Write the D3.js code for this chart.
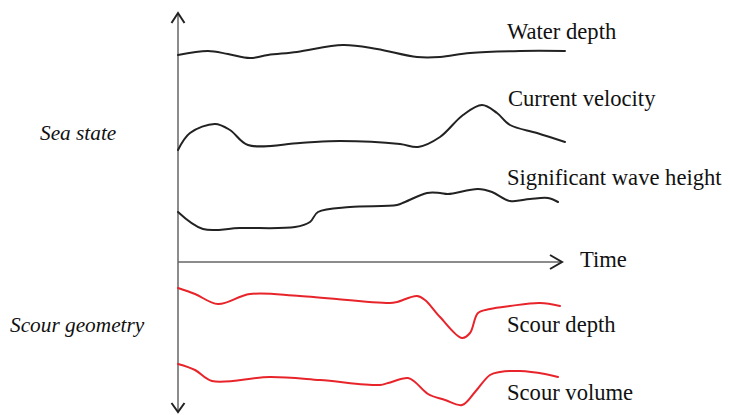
<!DOCTYPE html>
<html><head><meta charset="utf-8">
<script src="https://cdn.jsdelivr.net/npm/d3@7"></script>
<style>body{margin:0;background:#fff}svg{display:block}</style>
</head><body>
<svg id="c" width="730" height="415"></svg>
<script>
// Data (schematic signals): time values and signal levels
const waterT   = [0,30,50,72,90,119,165,199,239,262,292,342,387];
const waterV   = [358,362,359,355,358,361,368,364,356,356,360,362,362];
const currentT = [0,12,37,52,70,122,162,222,240,262,285,304,319,332,359,387];
const currentV = [263,280,289,283,268,270,272,269,266,276,298,308,300,288,280,271];
const waveT    = [0,25,62,117,132,140,172,219,227,249,262,270,300,314,332,352,370,380];
const waveV    = [201,184,185,186,191,201,206,208,211,220,220,219,224,221,212,214,215,211];
const depthT   = [0,17,40,72,122,212,219,239,247,262,284,292,300,312,332,362,382];
const depthV   = [125,119,109,119,117,110,111,117,113,96,75,80,100,104,107,110,107];
const volumeT  = [0,17,34,92,142,202,210,230,237,250,267,284,297,312,322,342,367,380];
const volumeV  = [49,43,32,36,33,28,30,35,31,19,13,8,21,38,41,42,39,36];
const seriesNames = ["Water depth","Current velocity","Significant wave height","Scour depth","Scour volume"];
const groupNames = ["Sea state","Scour geometry"];
const axisLabel = "Time";

const svg = d3.select("#c");
const x = d3.scaleLinear().domain([0,387]).range([178,565]);
const y = d3.scaleLinear().domain([0,400]).range([413,13]);

const series = [
  {name:seriesNames[0], t:waterT, v:waterV, color:"#222", lx:507, ly:39},
  {name:seriesNames[1], t:currentT, v:currentV, color:"#222", lx:508, ly:106},
  {name:seriesNames[2], t:waveT, v:waveV, color:"#222", lx:507, ly:185},
  {name:seriesNames[3], t:depthT, v:depthV, color:"#e8242b", lx:507, ly:332},
  {name:seriesNames[4], t:volumeT, v:volumeV, color:"#e8242b", lx:507, ly:400}
];

const line = d3.line().x(d=>x(d[0])).y(d=>y(d[1])).curve(d3.curveCatmullRom.alpha(0.5));
const font = "Liberation Serif, serif";

// axes
const axisColor = "#666";
svg.append("line").attr("x1",x(0)).attr("x2",x(0)).attr("y1",y(400)).attr("y2",y(1))
  .attr("stroke",axisColor).attr("stroke-width",1.5);
svg.append("line").attr("x1",x(0)).attr("x2",x(384)).attr("y1",y(151)).attr("y2",y(151))
  .attr("stroke",axisColor).attr("stroke-width",1.5);
const arrow = pts => svg.append("path").attr("d", d3.line()(pts)).attr("fill","none")
  .attr("stroke","#222").attr("stroke-width",2).attr("stroke-linejoin","miter");
arrow([[x(0)-6.5,y(390)],[x(0),y(400)],[x(0)+6.5,y(390)]]);
arrow([[x(0)-6.5,y(10)],[x(0),y(1)],[x(0)+6.5,y(10)]]);
arrow([[x(372),y(158)],[x(384),y(151)],[x(372),y(144)]]);

series.forEach(s=>{
  svg.append("path").attr("d", line(s.t.map((t,i)=>[t,s.v[i]])))
    .attr("fill","none").attr("stroke",s.color).attr("stroke-width",2)
    .attr("stroke-linecap","round");
  svg.append("text").attr("x",s.lx).attr("y",s.ly).text(s.name)
    .attr("font-family",font).attr("font-size",22.6).attr("fill","#111");
});
svg.append("text").attr("x",580).attr("y",267).text(axisLabel)
  .attr("font-family",font).attr("font-size",22.6).attr("fill","#111");
svg.append("text").attr("x",40).attr("y",140).text(groupNames[0])
  .attr("font-family",font).attr("font-style","italic").attr("font-size",21.3).attr("fill","#111");
svg.append("text").attr("x",10).attr("y",332).text(groupNames[1])
  .attr("font-family",font).attr("font-style","italic").attr("font-size",21.3).attr("fill","#111");
</script>
</body></html>
